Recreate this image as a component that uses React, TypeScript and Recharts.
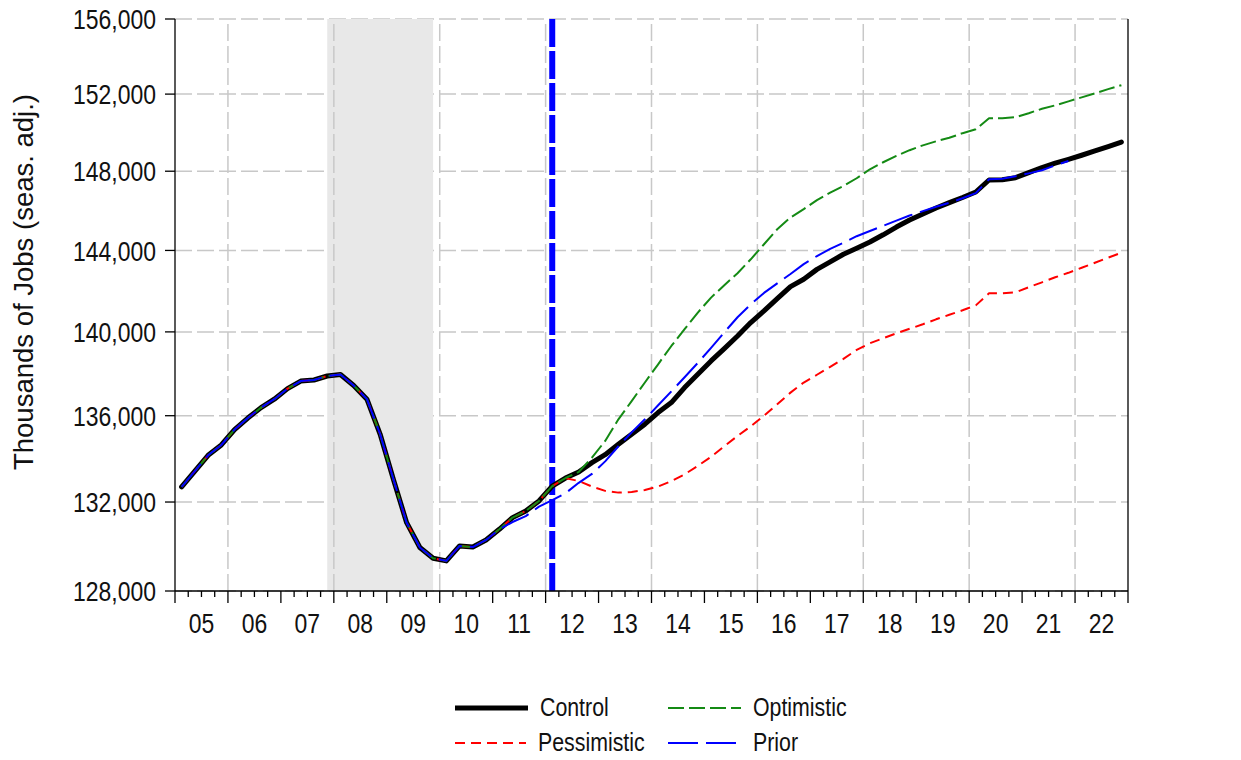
import { LineChart, Line, XAxis, YAxis, CartesianGrid, ReferenceArea, ReferenceLine, Legend } from 'recharts';

// Nonfarm jobs: history + three scenarios and the prior forecast, quarterly 2005-2022

const FONT = "'Liberation Sans', Arial, sans-serif";
const NARROW = 0.82; // squeeze to look like a narrow face

const YEARS = ['05', '06', '07', '08', '09', '10', '11', '12', '13', '14', '15', '16', '17', '18', '19', '20', '21', '22'];
const GRID_YEARS = ['06', '08', '10', '12', '14', '16', '18', '20', '22'];
const RECESSION = ['2007Q4', '2009Q4'];
const FORECAST_START = '2012Q1';
const Y_TICKS = [128000, 132000, 136000, 140000, 144000, 148000, 152000, 156000];

// 2005Q1 - 2012Q2, shared by every series
const history = [
  132690, 133420, 134150, 134630, 135350, 135890, 136380, 136780, 137280, 137640,
  137690, 137880, 137950, 137430, 136780, 135130, 133040, 131060, 129940, 129460,
  129340, 130010, 129960, 130280, 130760, 131290, 131590, 132050, 132730, 133100,
];

// 2012Q3 - 2022Q4
const controlForecast = [
  133380, 133810, 134180, 134660, 135130, 135600, 136150, 136620, 137330, 137960,
  138600, 139190, 139800, 140450, 141020, 141620, 142210, 142570, 143060, 143430,
  143810, 144110, 144420, 144780, 145170, 145520, 145830, 146130, 146400, 146660,
  146940, 147550, 147560, 147670, 147930, 148190, 148410, 148610, 148820, 149040,
  149270, 149500,
];

const pessimisticForecast = [
  132960, 132710, 132510, 132430, 132460, 132550, 132710, 132960, 133270, 133660,
  134080, 134570, 135050, 135500, 136000, 136540, 137090, 137570, 137940, 138320,
  138700, 139130, 139450, 139690, 139930, 140150, 140370, 140610, 140830, 141050,
  141290, 141880, 141880, 141930, 142180, 142420, 142670, 142890, 143140, 143390,
  143640, 143890,
];

const optimisticForecast = [
  133380, 134040, 134820, 135830, 136690, 137570, 138440, 139320, 140130, 140940,
  141670, 142280, 142870, 143560, 144310, 145060, 145650, 146070, 146530, 146910,
  147250, 147640, 148100, 148460, 148790, 149080, 149330, 149540, 149720, 149960,
  150160, 150740, 150740, 150790, 151000, 151230, 151410, 151620, 151830, 152040,
  152260, 152470,
];

// prior forecast: 2011Q2 - 2021Q4
const priorForecast = [
  131090, 131360, 131790, 132090, 132400, 132880, 133290, 133870, 134570, 135220,
  135830, 136490, 137150, 137820, 138510, 139230, 139980, 140710, 141340, 141900,
  142370, 142830, 143320, 143720, 144080, 144380, 144710, 144970, 145230, 145490,
  145750, 145970, 146190, 146390, 146620, 146880, 147590, 147610, 147740, 147890,
  148050, 148300, 148520,
];

const QUARTERS = YEARS.flatMap((y) => ['Q1', 'Q2', 'Q3', 'Q4'].map((q) => `20${y}${q}`));

const control = [...history, ...controlForecast];
const pessimistic = [...history, ...pessimisticForecast];
const optimistic = [...history, ...optimisticForecast];
const prior = [...history.slice(0, 25), ...priorForecast];

const data = QUARTERS.map((q, i) => ({
  t: i + 0.5,
  q,
  control: control[i],
  pessimistic: pessimistic[i],
  optimistic: optimistic[i],
  prior: prior[i],
}));

const qMid = (q: string) => QUARTERS.indexOf(q) + 0.5;
const yearStart = (y: string) => QUARTERS.indexOf(`20${y}Q1`);
const X_TICKS = [...QUARTERS.map((_, i) => i), QUARTERS.length];

const SERIES = [
  { key: 'control', label: 'Control', color: '#000000', width: 5, dash: undefined },
  { key: 'pessimistic', label: 'Pessimistic', color: '#ff0000', width: 2, dash: '10 6' },
  { key: 'optimistic', label: 'Optimistic', color: '#148a14', width: 2, dash: '16 5' },
  { key: 'prior', label: 'Prior', color: '#0000ff', width: 2, dash: '30 8' },
];
const LEGEND_ORDER = ['control', 'optimistic', 'pessimistic', 'prior'];

const fmt = (v: number) => v.toLocaleString('en-US');

function QuarterTick({ x, y, payload }: any) {
  const v = payload.value as number;
  const major = v % 4 === 0;
  return (
    <g>
      <line x1={x} x2={x} y1={y} y2={y + (major ? 12 : 6)} stroke="#000" strokeWidth={1.3} />
      {v % 4 === 2 && (
        <text transform={`translate(${x},${y + 42}) scale(${NARROW},1)`} textAnchor="middle" fontSize={28} fontFamily={FONT} fill="#111">
          {YEARS[(v - 2) / 4]}
        </text>
      )}
    </g>
  );
}

function ValueTick({ x, y, payload, textAnchor }: any) {
  return (
    <text transform={`translate(${x},${y}) scale(${NARROW},1)`} dy="0.36em" textAnchor={textAnchor} fontSize={28} fontFamily={FONT} fill="#111">
      {fmt(payload.value)}
    </text>
  );
}

function YLabel({ viewBox }: any) {
  const cx = viewBox.x + 25;
  const cy = viewBox.y + viewBox.height / 2 - 23;
  return (
    <text transform={`translate(${cx},${cy}) rotate(-90)`} textAnchor="middle" fontSize={27.5} fontFamily={FONT} fill="#111">
      Thousands of Jobs (seas. adj.)
    </text>
  );
}

function ScenarioLegend() {
  return (
    <div
      style={{
        height: 70,
        paddingLeft: 447,
        display: 'grid',
        gridTemplateColumns: '213px 220px',
        gridAutoRows: '35px',
        fontFamily: FONT,
        fontSize: 26,
        color: '#111',
      }}
    >
      {LEGEND_ORDER.map((k) => {
        const s = SERIES.find((it) => it.key === k)!;
        return (
          <div key={k} style={{ display: 'flex', alignItems: 'center', whiteSpace: 'nowrap' }}>
            <svg width={73} height={10}>
              <line x1={0} x2={73} y1={5} y2={5} stroke={s.color} strokeWidth={s.width} strokeDasharray={s.dash} />
            </svg>
            <span style={{ marginLeft: 12, display: 'inline-block', transform: `scaleX(${NARROW})`, transformOrigin: 'left center' }}>{s.label}</span>
          </div>
        );
      })}
    </div>
  );
}

export default function App() {
  return (
    <LineChart width={1225} height={752} data={data} margin={{ top: 11, right: 0, bottom: 0, left: 0 }} style={{ fontFamily: FONT }}>
      <ReferenceArea xAxisId="b" yAxisId="left" x1={qMid(RECESSION[0])} x2={qMid(RECESSION[1])} fill="#e8e8e8" fillOpacity={1} stroke="none" />
      <CartesianGrid xAxisId="b" yAxisId="left" vertical={false} stroke="#c8c8c8" strokeWidth={1.5} strokeDasharray="17 5" />
      {GRID_YEARS.map((y) => (
        <ReferenceLine key={y} xAxisId="b" yAxisId="left" x={yearStart(y)} stroke="#c8c8c8" strokeWidth={1.5} strokeDasharray="17 5" />
      ))}
      <ReferenceLine xAxisId="b" yAxisId="left" x={qMid(FORECAST_START)} stroke="#0000ff" strokeWidth={6} strokeDasharray="28 4" />

      <XAxis
        xAxisId="b"
        dataKey="t"
        type="number"
        domain={[0, QUARTERS.length]}
        ticks={X_TICKS}
        interval={0}
        height={99}
        tickSize={0}
        tickMargin={0}
        tickLine={false}
        axisLine={{ stroke: '#000', strokeWidth: 1.3 }}
        tick={<QuarterTick />}
      />
      <XAxis xAxisId="top" orientation="top" dataKey="t" type="number" domain={[0, QUARTERS.length]} height={0} tick={false} tickLine={false} axisLine={{ stroke: '#000', strokeWidth: 1.3 }} />
      <YAxis
        yAxisId="left"
        scale="log"
        domain={[128000, 156000]}
        ticks={Y_TICKS}
        interval={0}
        width={167}
        tickSize={10}
        tickMargin={9}
        tick={<ValueTick />}
        axisLine={{ stroke: '#000', strokeWidth: 1.3 }}
        tickLine={{ stroke: '#000', strokeWidth: 1.3 }}
        label={<YLabel />}
      />
      <YAxis
        yAxisId="right"
        orientation="right"
        scale="log"
        domain={[128000, 156000]}
        ticks={Y_TICKS}
        interval={0}
        width={105}
        tickSize={11}
        tickMargin={8}
        tick={<ValueTick />}
        axisLine={{ stroke: '#000', strokeWidth: 1.3 }}
        tickLine={{ stroke: '#000', strokeWidth: 1.3 }}
      />

      {SERIES.map((s) => (
        <Line
          key={s.key}
          xAxisId="b"
          yAxisId="left"
          type="linear"
          dataKey={s.key}
          name={s.label}
          stroke={s.color}
          strokeWidth={s.width}
          strokeDasharray={s.dash}
          strokeLinejoin="round"
          strokeLinecap={s.dash ? 'butt' : 'round'}
          dot={false}
          activeDot={false}
          isAnimationActive={false}
        />
      ))}

      <Legend verticalAlign="bottom" content={<ScenarioLegend />} />
    </LineChart>
  );
}
